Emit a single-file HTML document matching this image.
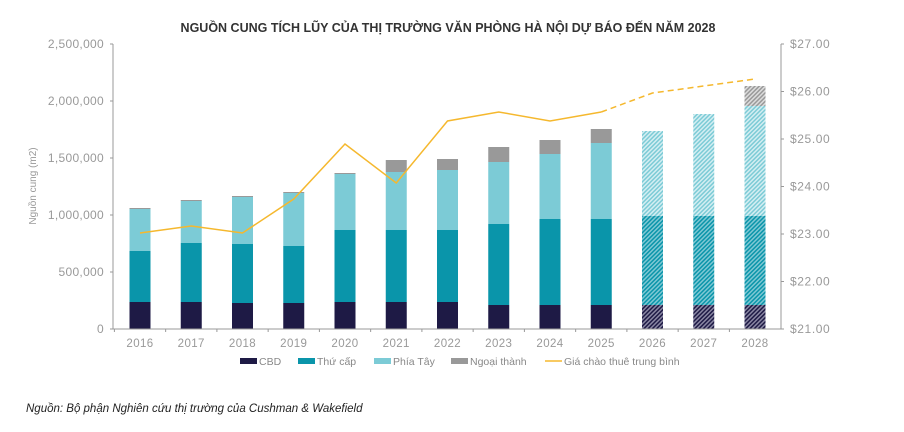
<!DOCTYPE html>
<html><head><meta charset="utf-8"><style>
body{margin:0;background:#fff;width:904px;height:432px;overflow:hidden}
svg{display:block;font-family:"Liberation Sans",sans-serif}
</style></head><body>
<svg id="s" width="904" height="432" viewBox="0 0 904 432">
<defs>
<pattern id="h1" width="3" height="3" patternUnits="userSpaceOnUse" patternTransform="rotate(45)"><rect width="3" height="3" fill="#8a87a3"/><rect width="1.5" height="3" fill="#1e1a45"/></pattern>
<pattern id="h2" width="3" height="3" patternUnits="userSpaceOnUse" patternTransform="rotate(45)"><rect width="3" height="3" fill="#7fc8d4"/><rect width="1.5" height="3" fill="#0a95aa"/></pattern>
<pattern id="h3" width="3" height="3" patternUnits="userSpaceOnUse" patternTransform="rotate(45)"><rect width="3" height="3" fill="#d4eef2"/><rect width="1.5" height="3" fill="#7ccbd6"/></pattern>
<pattern id="h4" width="3" height="3" patternUnits="userSpaceOnUse" patternTransform="rotate(45)"><rect width="3" height="3" fill="#dcdcdc"/><rect width="1.5" height="3" fill="#999"/></pattern>
</defs>
<text x="448" y="32" text-anchor="middle" font-size="12.5" font-weight="bold" fill="#333">NGUỒN CUNG TÍCH LŨY CỦA THỊ TRƯỜNG VĂN PHÒNG HÀ NỘI DỰ BÁO ĐẾN NĂM 2028</text>
<g id="g"></g>
<text transform="translate(36,186) rotate(-90)" text-anchor="middle" font-size="10" fill="#999">Nguồn cung (m2)</text>
<g font-size="10.5" fill="#888">
<rect x="240" y="358" width="17" height="6" fill="#1e1a45"/><text x="259" y="365">CBD</text>
<rect x="298" y="358" width="17" height="6" fill="#0a95aa"/><text x="317" y="365">Thứ cấp</text>
<rect x="374" y="358" width="17" height="6" fill="#7ccbd6"/><text x="393" y="365">Phía Tây</text>
<rect x="451" y="358" width="17" height="6" fill="#999"/><text x="470" y="365">Ngoại thành</text>
<line x1="545" y1="361" x2="562" y2="361" stroke="#f5b82e" stroke-width="1.5"/><text x="564" y="365">Giá chào thuê trung bình</text>
</g>
<text x="26" y="412" font-size="11.5" font-style="italic" fill="#222">Nguồn: Bộ phận Nghiên cứu thị trường của Cushman &amp; Wakefield</text>
</svg>
<script>
var g=document.getElementById('g'),h='';
var b=[[302,251,209,208],[302,243,201,200],[303,244,197,196],[303,246,193,192],[302,230,174,173],[302,230,172,160],[302,230,170,159],[305,224,162,147],[305,219,154,140],[305,219,143,129],[305,216,131,131],[305,216,114,114],[305,216,106,86]];
var p=[233,226,233,199,144,183,121,112,121,112,93,86,79];
var c=['#1e1a45','#0a95aa','#7ccbd6','#999'];
for(var i=0;i<13;i++){var x=140+i*51.25,prev=329;
for(var k=0;k<4;k++){var t=b[i][k];if(prev-t>0){var f=i>=10?'url(#h'+(k+1)+')':c[k];h+='<rect x="'+(x-10.5)+'" y="'+t+'" width="21" height="'+(prev-t)+'" fill="'+f+'"/>';}prev=t;}
h+='<text x="'+x+'" y="347" text-anchor="middle" font-size="11.5" letter-spacing="0.4" fill="#999">'+(2016+i)+'</text>';
h+='<line x1="'+(x-25.6)+'" y1="329" x2="'+(x-25.6)+'" y2="332" stroke="#999"/>';}
var s='',d='';for(i=0;i<10;i++)s+=(140+i*51.25)+','+p[i]+' ';for(i=9;i<13;i++)d+=(140+i*51.25)+','+p[i]+' ';
h+='<polyline points="'+s+'" fill="none" stroke="#f5b82e" stroke-width="1.5"/><polyline points="'+d+'" fill="none" stroke="#f5b82e" stroke-width="1.5" stroke-dasharray="6,4"/>';
h+='<line x1="113" y1="44" x2="113" y2="329" stroke="#999"/><line x1="781" y1="44" x2="781" y2="329" stroke="#999"/><line x1="113" y1="329" x2="781" y2="329" stroke="#999"/>';
var L=['0','500,000','1,000,000','1,500,000','2,000,000','2,500,000'];
for(i=0;i<6;i++){var y=329-i*57;h+='<line x1="110" y1="'+y+'" x2="113" y2="'+y+'" stroke="#999"/><text x="104" y="'+(y+4)+'" text-anchor="end" font-size="12" letter-spacing="0.3" fill="#999">'+L[i]+'</text>';}
for(i=0;i<7;i++){var y=329-i*47.5;h+='<line x1="781" y1="'+y+'" x2="784" y2="'+y+'" stroke="#999"/><text x="790" y="'+(y+4)+'" font-size="12" letter-spacing="0.6" fill="#999">$'+(21+i)+'.00</text>';}
g.innerHTML=h;
</script>
</body></html>
